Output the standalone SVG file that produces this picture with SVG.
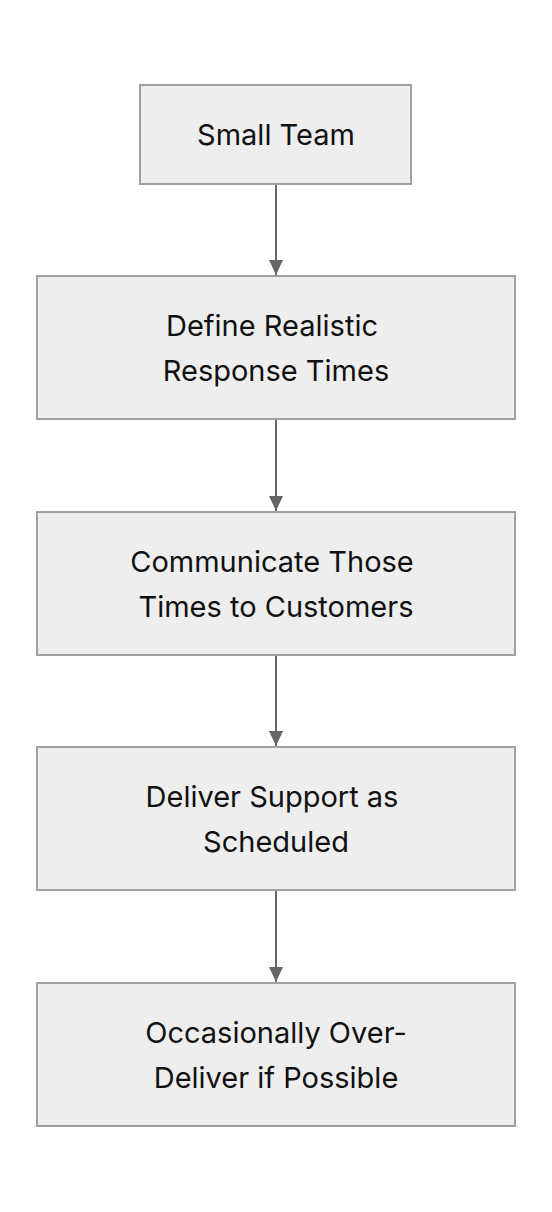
<svg xmlns="http://www.w3.org/2000/svg" width="552" height="1212" viewBox="0 0 552 1212">
<style>
.box{fill:#eeeeee;stroke:#a0a0a0;stroke-width:2}
.lbl{font-family:Inter,"Noto Sans","Liberation Sans",sans-serif;font-size:29px;fill:#111111;text-anchor:middle}
.edge{stroke:#666666;stroke-width:2;fill:none}
</style>
<defs>
<marker id="arr" markerWidth="15" markerHeight="14" refX="15" refY="7" orient="auto" markerUnits="userSpaceOnUse" viewBox="0 0 15 14">
<path d="M0,0 L15,7 L0,14 Z" fill="#666666"/>
</marker>
</defs>
<rect width="552" height="1212" fill="#ffffff"/>
<g id="connectors">
<line class="edge" x1="276" y1="185" x2="276" y2="275" marker-end="url(#arr)"/>
<line class="edge" x1="276" y1="420" x2="276" y2="511" marker-end="url(#arr)"/>
<line class="edge" x1="276" y1="656" x2="276" y2="746" marker-end="url(#arr)"/>
<line class="edge" x1="276" y1="891" x2="276" y2="982" marker-end="url(#arr)"/>
</g>
<g id="node-small-team">
<rect class="box" x="140" y="85" width="271" height="99"/>
<text class="lbl" x="276" y="145">Small Team</text>
</g>
<g id="node-define">
<rect class="box" x="37" y="276" width="478" height="143"/>
<text class="lbl" x="272" y="336">Define Realistic</text>
<text class="lbl" x="276" y="381">Response Times</text>
</g>
<g id="node-communicate">
<rect class="box" x="37" y="512" width="478" height="143"/>
<text class="lbl" x="272" y="572">Communicate Those</text>
<text class="lbl" x="276" y="617">Times to Customers</text>
</g>
<g id="node-deliver">
<rect class="box" x="37" y="747" width="478" height="143"/>
<text class="lbl" x="272" y="807">Deliver Support as</text>
<text class="lbl" x="276" y="852">Scheduled</text>
</g>
<g id="node-overdeliver">
<rect class="box" x="37" y="983" width="478" height="143"/>
<text class="lbl" x="276" y="1043">Occasionally Over-</text>
<text class="lbl" x="276" y="1088">Deliver if Possible</text>
</g>
</svg>
